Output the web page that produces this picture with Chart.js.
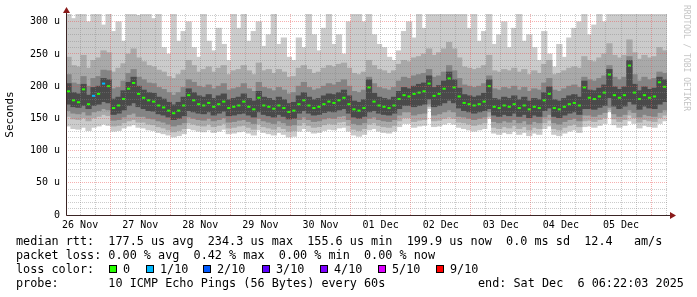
<!DOCTYPE html>
<html lang="en">
<head>
<meta charset="UTF-8">
<title>SmokePing - median rtt</title>
<script src="https://cdn.jsdelivr.net/npm/chart.js"></script>
<style>
  body { margin: 0; background: #fff; }
  .wrap { position: relative; width: 697px; height: 297px; font-family: "DejaVu Sans Mono", monospace; color: #000; }
  canvas { position: absolute; left: 0; top: 0; }
  .txt { position: absolute; font-size: 11.8px; line-height: 14px; white-space: pre; }
  .box { position: absolute; top: 265px; width: 8px; height: 8px; box-sizing: border-box; border: 1px solid #000; }
  .mark { position: absolute; left: 691px; top: 5px; font-size: 8px; line-height: 9px; color: #c4c4c4;
          white-space: pre; transform-origin: 0 0; transform: rotate(90deg); }
</style>
</head>
<body>
<div class="wrap">
  <canvas id="rtt" width="697" height="297"></canvas>
  <div class="txt" style="left:16px; top:234px;">median rtt:  177.5 us avg  234.3 us max  155.6 us min  199.9 us now  0.0 ms sd  12.4   am/s</div>
  <div class="txt" style="left:16px; top:248px;">packet loss: 0.00 % avg  0.42 % max  0.00 % min  0.00 % now</div>
  <div class="txt" style="left:16px; top:262px;">loss color:</div>
  <div id="lossLegend"></div>
  <div class="txt" style="left:16px; top:276px;">probe:       10 ICMP Echo Pings (56 Bytes) every 60s</div>
  <div class="txt" style="left:478px; top:276px;">end: Sat Dec  6 06:22:03 2025</div>
  <div class="mark">RRDTOOL / TOBI OETIKER</div>
</div>

<script>
// time axis: hours since 26 Nov 00:00, one bucket = 2 hours
const dayLabels = ['26 Nov', '27 Nov', '28 Nov', '29 Nov', '30 Nov', '01 Dec', '02 Dec', '03 Dec', '04 Dec', '05 Dec'];
const startHour = 6 + 22 / 60;   // 26 Nov 06:22
const spanHours = 240;
const bucketHours = 2;

// median rtt per bucket (us)
const median = [
  192,178,175,195,172,185,188,204,200,166,
  170,180,196,205,188,182,178,176,170,167,
  162,158,162,170,186,178,172,170,174,168,
  172,176,166,168,170,176,168,164,182,170,
  168,165,170,166,160,162,172,178,170,166,
  168,172,176,174,178,182,172,164,162,166,
  198,176,170,168,166,170,180,186,184,188,
  190,192,204,185,188,196,212,198,184,174,
  172,170,172,176,200,168,166,170,168,172,
  166,170,164,168,166,178,188,166,164,168,
  172,174,170,198,182,180,184,190,218,186,
  182,186,232,190,180,186,182,184,206,199
];

// lost pings (of 10) per bucket
const lossCount = [
  0,0,0,0,0,1,0,1,0,0, 0,0,0,0,0,0,0,0,0,0, 0,0,0,0,0,0,0,0,0,0,
  0,0,0,0,0,0,0,0,0,0, 0,0,0,0,0,0,0,0,0,0, 0,0,0,0,0,0,0,0,0,0,
  0,0,0,0,0,0,0,0,0,0, 0,0,0,0,0,0,0,0,0,0, 0,0,0,0,0,0,0,0,0,0,
  0,0,0,0,0,0,0,0,0,0, 0,0,0,0,0,0,0,0,0,0, 0,0,0,0,0,0,0,0,0,0
];

// smoke: lightest (outer) band
const shade1Low = [
  138,134,133,136,131,136,138,141,139,130,
  131,135,138,140,136,135,132,131,128,126,
  124,121,123,126,134,132,130,129,132,128,
  130,133,126,127,129,130,127,124,132,128,
  126,124,128,125,121,122,130,134,130,127,
  128,131,133,132,135,136,130,124,122,125,
  132,134,130,128,127,130,137,142,142,136,
  138,139,165,137,138,141,143,141,136,134,
  132,130,132,134,150,127,125,128,126,130,
  125,128,123,127,125,134,138,125,123,127,
  130,132,128,137,138,136,139,142,160,140,
  136,139,146,142,135,139,137,136,142,146
];
const shade1High = [
  315,305,315,315,300,315,315,295,315,285,
  300,270,315,315,310,315,315,305,315,260,
  250,312,270,285,300,260,245,312,270,255,
  290,265,240,312,290,312,270,285,300,262,
  280,312,265,275,245,240,275,260,312,280,
  255,290,312,265,280,250,300,312,312,300,
  312,280,265,260,245,240,255,285,300,275,
  312,290,312,315,315,315,315,315,315,315,
  290,312,270,285,312,265,280,300,260,290,
  312,270,280,260,240,285,250,230,265,245,
  275,290,300,312,280,295,312,300,315,315,
  315,315,315,315,315,315,315,315,315,315
];

// second band
const shade2Low = [
  153,149,148,151,146,151,153,156,154,138,
  139,143,146,148,144,144,141,140,137,135,
  132,129,131,134,143,141,139,138,141,137,
  139,142,135,136,138,139,136,133,141,137,
  135,133,137,134,130,131,139,143,139,136,
  137,140,142,141,144,145,139,133,131,134,
  141,143,139,137,136,139,146,151,151,145,
  147,148,168,146,147,150,152,150,144,143,
  141,139,141,143,153,136,134,137,135,139,
  134,137,132,136,134,143,147,134,132,136,
  139,141,137,146,147,145,148,151,163,149,
  145,148,155,151,144,148,146,145,151,155
];
const shade2High = [
  245,232,230,248,228,240,244,255,252,222,
  228,235,250,258,244,238,232,230,225,222,
  215,212,218,225,240,232,222,226,230,222,
  228,232,218,224,226,232,224,218,236,224,
  226,220,226,222,214,215,228,232,226,220,
  222,228,232,230,234,236,228,220,218,222,
  240,232,226,224,220,224,234,240,238,244,
  246,250,258,248,252,258,268,258,244,230,
  228,226,228,232,248,224,222,226,224,228,
  222,226,218,224,220,234,240,218,220,224,
  228,230,228,246,240,238,244,250,266,248,
  244,248,272,252,242,248,244,246,260,255
];

// third band
const shade3Low = [
  162,158,157,160,155,160,162,165,163,147,
  148,152,156,158,153,153,150,149,146,144,
  141,138,140,143,152,150,148,147,150,146,
  148,151,144,145,147,148,145,142,150,146,
  144,142,146,143,139,140,148,152,148,145,
  146,149,151,150,153,154,148,142,140,143,
  150,152,148,146,145,148,155,160,160,155,
  157,158,172,155,157,160,163,160,153,152,
  150,148,150,152,160,145,143,146,144,148,
  143,146,141,145,143,152,156,143,141,145,
  148,150,146,155,155,153,156,159,167,157,
  153,156,163,159,152,156,154,153,159,163
];
const shade3High = [
  218,205,203,215,200,212,215,225,224,196,
  198,208,220,226,214,210,205,204,198,195,
  190,186,190,198,210,206,200,198,202,196,
  200,204,194,196,198,204,196,192,206,198,
  196,193,198,194,188,190,200,206,198,194,
  196,200,204,202,206,210,200,192,190,194,
  214,204,198,196,194,198,208,214,212,216,
  218,220,226,214,216,222,232,224,212,202,
  200,198,200,204,216,196,194,198,196,200,
  194,198,192,196,194,205,212,194,192,196,
  200,202,198,214,210,208,212,216,232,214,
  210,214,246,218,208,214,210,212,222,220
];

// darkest band around the median
const shade4Low = [
  172,168,167,170,165,170,172,176,174,156,
  158,163,170,174,168,165,162,161,157,155,
  152,148,150,154,162,160,158,157,160,155,
  158,161,154,155,157,158,155,152,160,156,
  154,152,156,153,149,150,158,162,158,155,
  156,159,161,160,163,165,158,152,150,153,
  160,162,158,156,155,158,165,170,170,168,
  170,172,180,168,170,174,178,174,166,162,
  160,158,160,162,165,155,153,156,154,158,
  153,156,151,155,153,162,166,153,151,155,
  158,160,156,165,165,164,167,170,182,169,
  165,169,176,172,164,169,166,165,172,176
];
const shade4High = [
  204,190,188,203,186,198,200,212,210,180,
  183,193,206,214,200,194,190,189,183,180,
  175,171,175,183,196,190,185,183,187,181,
  185,188,179,181,183,188,181,177,192,183,
  181,178,183,179,173,175,185,190,183,179,
  181,185,188,187,190,194,185,177,175,179,
  210,189,183,181,179,183,192,198,196,200,
  203,205,216,198,201,208,222,210,197,187,
  185,183,185,189,210,181,179,183,181,185,
  179,183,177,181,179,190,199,179,177,181,
  185,187,183,208,194,193,197,202,226,199,
  195,199,240,203,193,199,195,197,214,210
];

const lossLabels = ['0', '1/10', '2/10', '3/10', '4/10', '5/10', '9/10'];
const lossColors = ['#26ff00', '#00b8ff', '#0059ff', '#5e00ff', '#7e00ff', '#dd00ff', '#ff0000'];
const lossFrom = [0, 1, 2, 3, 4, 5, 9];

// legend boxes
const boxLeft = [109, 146, 203, 262, 320, 378, 436];
const legendHtml = lossLabels.map((t, i) =>
  '<div class="box" style="left:' + boxLeft[i] + 'px; background:' + lossColors[i] + '"></div>' +
  '<div class="txt" style="left:' + (boxLeft[i] + 14) + 'px; top:262px;">' + t + '</div>').join('');
document.getElementById('lossLegend').innerHTML = legendHtml;

function lossColor(n) {
  let c = lossColors[0];
  lossFrom.forEach((f, i) => { if (n >= f) c = lossColors[i]; });
  return c;
}

const xAt = i => startHour + bucketHours * (i + 0.5);
const band = (lo, hi) => lo.map((v, i) => ({ x: xAt(i), y: [v, hi[i]] }));

const xGrid = [];
for (let h = Math.ceil(startHour / 6) * 6; h <= startHour + spanHours; h += 6) xGrid.push(h);
const yGrid = [];
for (let v = 0; v <= 310; v += 10) yGrid.push(v);

const minorGrid = 'rgba(130,130,130,0.42)';
const majorGrid = 'rgba(235,80,80,0.45)';
const mono = 'DejaVu Sans Mono';

const axisArrows = {
  id: 'axisArrows',
  afterDraw(chart) {
    const { ctx, chartArea: a } = chart;
    const x0 = Math.round(a.left) + 0.5;
    const y0 = Math.round(a.bottom) + 0.5;
    ctx.save();
    ctx.strokeStyle = '#3a2424';
    ctx.lineWidth = 1;
    ctx.beginPath();
    ctx.moveTo(x0, y0);
    ctx.lineTo(x0, a.top - 4);
    ctx.moveTo(x0, y0);
    ctx.lineTo(a.right + 3, y0);
    ctx.stroke();
    ctx.fillStyle = '#8a1a1a';
    ctx.beginPath();
    ctx.moveTo(x0, a.top - 7);
    ctx.lineTo(x0 - 3.5, a.top - 1);
    ctx.lineTo(x0 + 3.5, a.top - 1);
    ctx.closePath();
    ctx.fill();
    ctx.beginPath();
    ctx.moveTo(a.right + 9, y0);
    ctx.lineTo(a.right + 3, y0 - 3.5);
    ctx.lineTo(a.right + 3, y0 + 3.5);
    ctx.closePath();
    ctx.fill();
    ctx.restore();
  }
};

const barBase = { type: 'bar', grouped: false, barThickness: 5.6, borderWidth: 0, clip: 0 };

new Chart(document.getElementById('rtt'), {
  type: 'bar',
  data: {
    datasets: [
      { type: 'line', data: median.map((v, i) => ({ x: xAt(i), y: v })), showLine: false,
        pointStyle: 'line', pointRadius: 1.6, pointBorderWidth: 2,
        pointBorderColor: lossCount.map(lossColor), order: 0 },
      Object.assign({ data: band(shade4Low, shade4High), backgroundColor: '#4a4a4a', order: 1 }, barBase),
      Object.assign({ data: band(shade3Low, shade3High), backgroundColor: '#848484', order: 2 }, barBase),
      Object.assign({ data: band(shade2Low, shade2High), backgroundColor: '#a9a9a9', order: 3 }, barBase),
      Object.assign({ data: band(shade1Low, shade1High), backgroundColor: '#cbcbcb', order: 4 }, barBase)
    ]
  },
  options: {
    responsive: false,
    animation: false,
    devicePixelRatio: 1,
    events: [],
    layout: { padding: { left: 0, top: 14, right: 30, bottom: 0 } },
    plugins: { legend: { display: false }, tooltip: { enabled: false } },
    scales: {
      x: {
        type: 'linear',
        min: startHour,
        max: startHour + spanHours,
        offset: false,
        afterBuildTicks: s => { s.ticks = xGrid.map(v => ({ value: v })); },
        afterFit: s => { s.height = 82; },
        grid: { z: 1, offset: false, drawTicks: false, lineWidth: 1,
                color: c => (c.tick && c.tick.value % 24 === 0) ? majorGrid : minorGrid },
        border: { display: false, dash: [1, 1] },
        ticks: {
          autoSkip: false, maxRotation: 0, padding: 4, color: '#000',
          font: { family: mono, size: 10 },
          callback: v => (v % 24 === 12) ? dayLabels[Math.floor(v / 24)] : ''
        }
      },
      y: {
        min: 0,
        max: 312,
        afterBuildTicks: s => { s.ticks = yGrid.map(v => ({ value: v })); },
        afterFit: s => { s.width = 66; },
        grid: { z: 1, drawTicks: false, lineWidth: 1,
                color: c => (c.tick && c.tick.value % 50 === 0) ? majorGrid : minorGrid },
        border: { display: false, dash: [1, 1] },
        ticks: {
          autoSkip: false, padding: 6, color: '#000',
          font: { family: mono, size: 10 },
          callback: v => (v % 50 !== 0) ? '' : (v === 0 ? '0' : v + ' u')
        },
        title: { display: true, text: 'Seconds', color: '#000',
                 font: { family: mono, size: 11 }, padding: { top: 4, bottom: 0 } }
      }
    }
  },
  plugins: [axisArrows]
});
</script>
</body>
</html>
